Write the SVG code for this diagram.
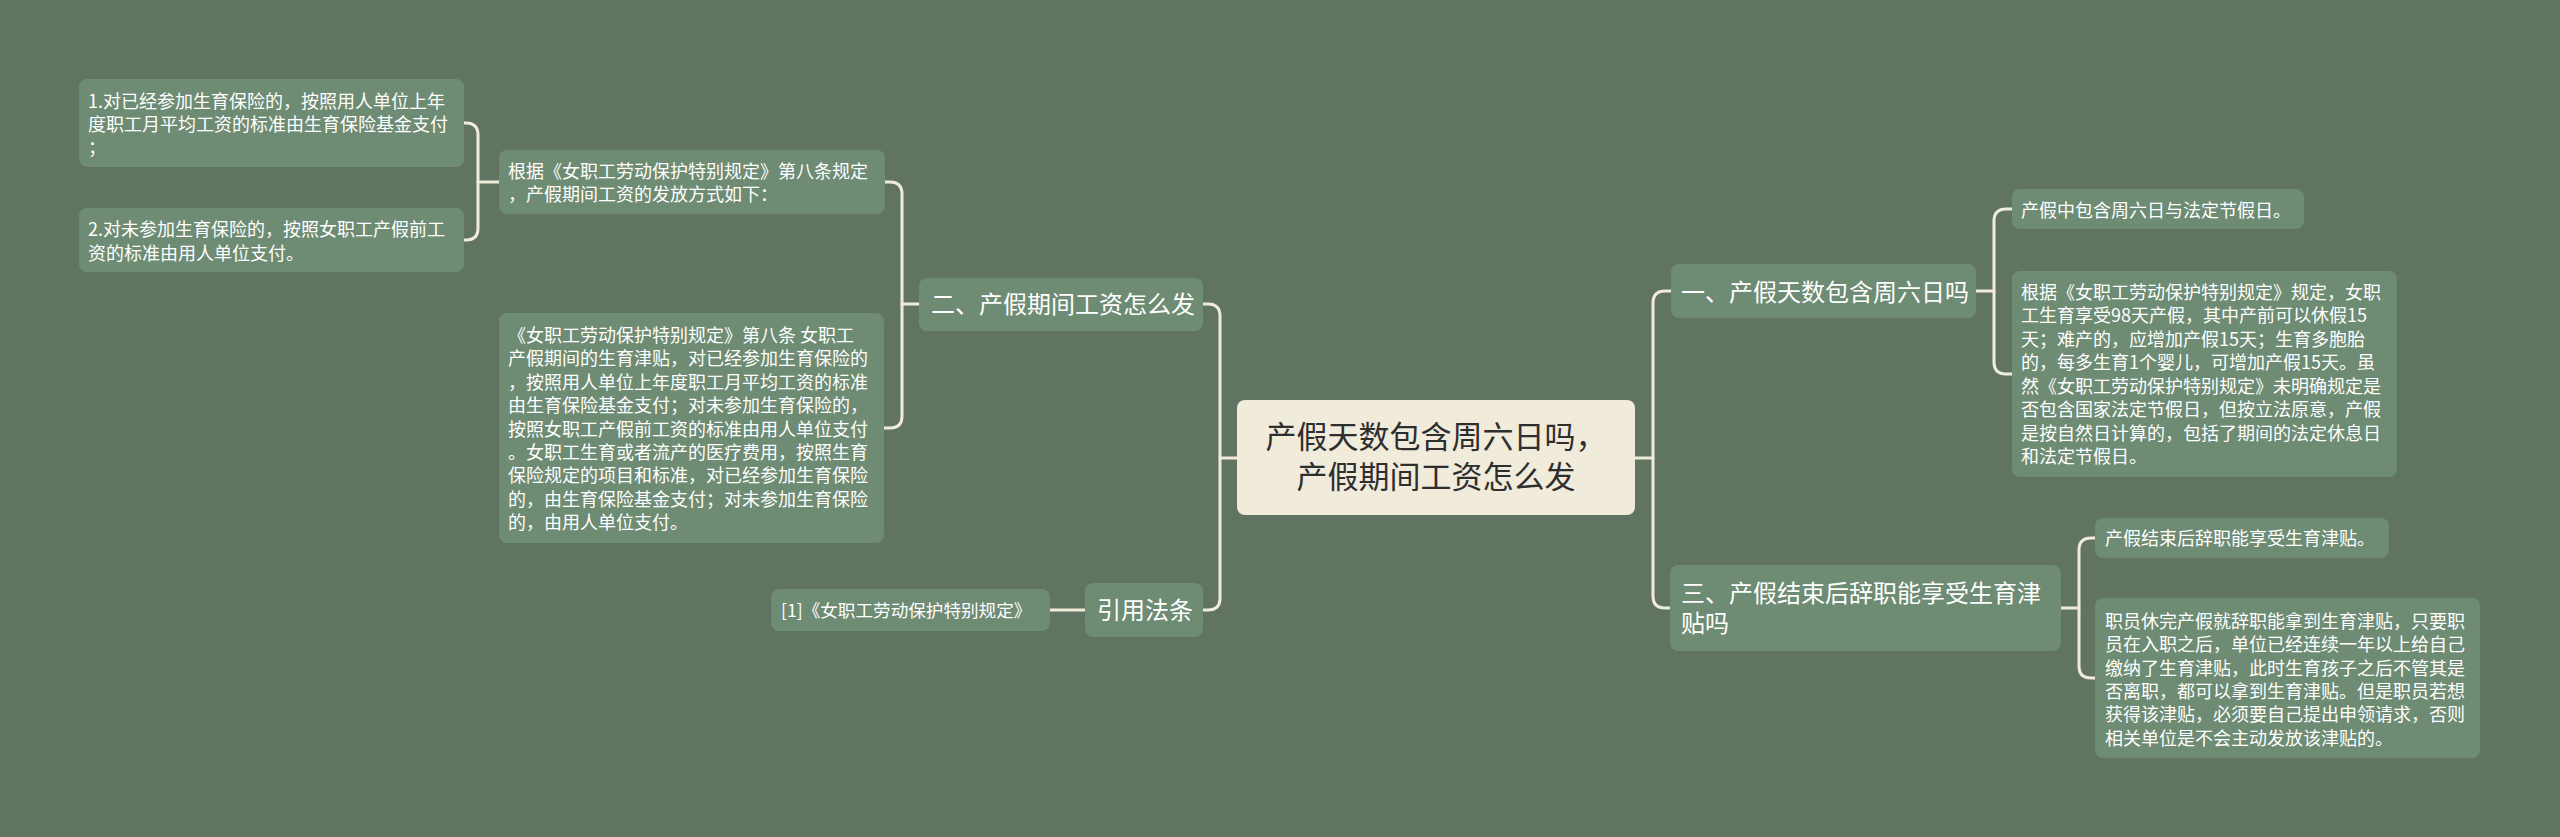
<svg xmlns="http://www.w3.org/2000/svg" width="2560" height="837" viewBox="0 0 2560 837">
<style>
.bg{fill:#617462}
.n{fill:#6e8b73}
.c{fill:#f0ebdb}
.t{font-family:"Noto Sans CJK SC","Noto Sans",sans-serif;fill:#ffffff}
.s{font-size:18px}
.m{font-size:24px}
.ct{font-family:"Noto Sans CJK SC","Noto Sans",sans-serif;font-size:31px;fill:#2e2e2e;text-anchor:middle}
.e{fill:none;stroke:#f1ecd9;stroke-width:3;stroke-linecap:round}
</style>
<rect class="bg" x="0" y="0" width="2560" height="837"/>
<g id="connectors">
<path class="e" d="M1237,458 H1220"/>
<path class="e" d="M1203,304 H1208 Q1220,304 1220,316 V598 Q1220,610 1208,610 H1203"/>
<path class="e" d="M919,304 H902"/>
<path class="e" d="M885,182 H890 Q902,182 902,194 V416 Q902,428 890,428 H884"/>
<path class="e" d="M499,182 H478"/>
<path class="e" d="M464,123 H466 Q478,123 478,135 V228 Q478,240 466,240 H464"/>
<path class="e" d="M1085,610 H1050"/>
<path class="e" d="M1635,458 H1653"/>
<path class="e" d="M1671,291 H1665 Q1653,291 1653,303 V596 Q1653,608 1665,608 H1670"/>
<path class="e" d="M1976,291 H1994"/>
<path class="e" d="M2012,209 H2006 Q1994,209 1994,221 V362 Q1994,374 2006,374 H2012"/>
<path class="e" d="M2061,608 H2079"/>
<path class="e" d="M2095,538 H2091 Q2079,538 2079,550 V666 Q2079,678 2091,678 H2095"/>
</g>
<g id="center">
<rect class="c" x="1237" y="400" width="398" height="115" rx="8"/>
<text class="ct" x="1436" y="448">产假天数包含周六日吗，</text>
<text class="ct" x="1436" y="488">产假期间工资怎么发</text>
</g>
<g id="n2">
<rect class="n" x="919" y="278" width="284" height="53" rx="8"/>
<text class="t m" x="931" y="313">二、产假期间工资怎么发</text>
</g>
<g id="b1">
<rect class="n" x="499" y="150" width="386" height="64" rx="8"/>
<text class="t s" x="508" y="178">根据《女职工劳动保护特别规定》第八条规定</text>
<text class="t s" x="508" y="201">，产假期间工资的发放方式如下：</text>
</g>
<g id="a1">
<rect class="n" x="79" y="79" width="385" height="88" rx="8"/>
<text class="t s" x="88" y="108">1.对已经参加生育保险的，按照用人单位上年</text>
<text class="t s" x="88" y="131">度职工月平均工资的标准由生育保险基金支付</text>
<text class="t s" x="88" y="154">；</text>
</g>
<g id="a2">
<rect class="n" x="79" y="208" width="385" height="64" rx="8"/>
<text class="t s" x="88" y="236">2.对未参加生育保险的，按照女职工产假前工</text>
<text class="t s" x="88" y="260">资的标准由用人单位支付。</text>
</g>
<g id="b2">
<rect class="n" x="499" y="313" width="385" height="230" rx="8"/>
<text class="t s" x="508" y="342">《女职工劳动保护特别规定》第八条 女职工</text>
<text class="t s" x="508" y="365">产假期间的生育津贴，对已经参加生育保险的</text>
<text class="t s" x="508" y="389">，按照用人单位上年度职工月平均工资的标准</text>
<text class="t s" x="508" y="412">由生育保险基金支付；对未参加生育保险的，</text>
<text class="t s" x="508" y="436">按照女职工产假前工资的标准由用人单位支付</text>
<text class="t s" x="508" y="459">。女职工生育或者流产的医疗费用，按照生育</text>
<text class="t s" x="508" y="482">保险规定的项目和标准，对已经参加生育保险</text>
<text class="t s" x="508" y="506">的，由生育保险基金支付；对未参加生育保险</text>
<text class="t s" x="508" y="529">的，由用人单位支付。</text>
</g>
<g id="ref">
<rect class="n" x="1085" y="583" width="118" height="54" rx="8"/>
<text class="t m" x="1097" y="619">引用法条</text>
</g>
<g id="ref1">
<rect class="n" x="771" y="589" width="279" height="42" rx="8"/>
<text class="t" font-size="17.6" x="781" y="617">[1]《女职工劳动保护特别规定》</text>
</g>
<g id="n1">
<rect class="n" x="1671" y="264" width="305" height="54" rx="8"/>
<text class="t m" x="1681" y="301">一、产假天数包含周六日吗</text>
</g>
<g id="c1">
<rect class="n" x="2012" y="189" width="292" height="40" rx="8"/>
<text class="t s" x="2021" y="217">产假中包含周六日与法定节假日。</text>
</g>
<g id="c2">
<rect class="n" x="2012" y="271" width="385" height="206" rx="8"/>
<text class="t s" x="2021" y="299">根据《女职工劳动保护特别规定》规定，女职</text>
<text class="t s" x="2021" y="322">工生育享受98天产假，其中产前可以休假15</text>
<text class="t s" x="2021" y="346">天；难产的，应增加产假15天；生育多胞胎</text>
<text class="t s" x="2021" y="369">的，每多生育1个婴儿，可增加产假15天。虽</text>
<text class="t s" x="2021" y="393">然《女职工劳动保护特别规定》未明确规定是</text>
<text class="t s" x="2021" y="416">否包含国家法定节假日，但按立法原意，产假</text>
<text class="t s" x="2021" y="440">是按自然日计算的，包括了期间的法定休息日</text>
<text class="t s" x="2021" y="463">和法定节假日。</text>
</g>
<g id="n3">
<rect class="n" x="1670" y="565" width="391" height="86" rx="8"/>
<text class="t m" x="1681" y="602">三、产假结束后辞职能享受生育津</text>
<text class="t m" x="1681" y="632">贴吗</text>
</g>
<g id="d1">
<rect class="n" x="2095" y="518" width="294" height="40" rx="8"/>
<text class="t s" x="2105" y="545">产假结束后辞职能享受生育津贴。</text>
</g>
<g id="d2">
<rect class="n" x="2095" y="598" width="385" height="160" rx="8"/>
<text class="t s" x="2105" y="628">职员休完产假就辞职能拿到生育津贴，只要职</text>
<text class="t s" x="2105" y="651">员在入职之后，单位已经连续一年以上给自己</text>
<text class="t s" x="2105" y="675">缴纳了生育津贴，此时生育孩子之后不管其是</text>
<text class="t s" x="2105" y="698">否离职，都可以拿到生育津贴。但是职员若想</text>
<text class="t s" x="2105" y="721">获得该津贴，必须要自己提出申领请求，否则</text>
<text class="t s" x="2105" y="745">相关单位是不会主动发放该津贴的。</text>
</g>
</svg>
